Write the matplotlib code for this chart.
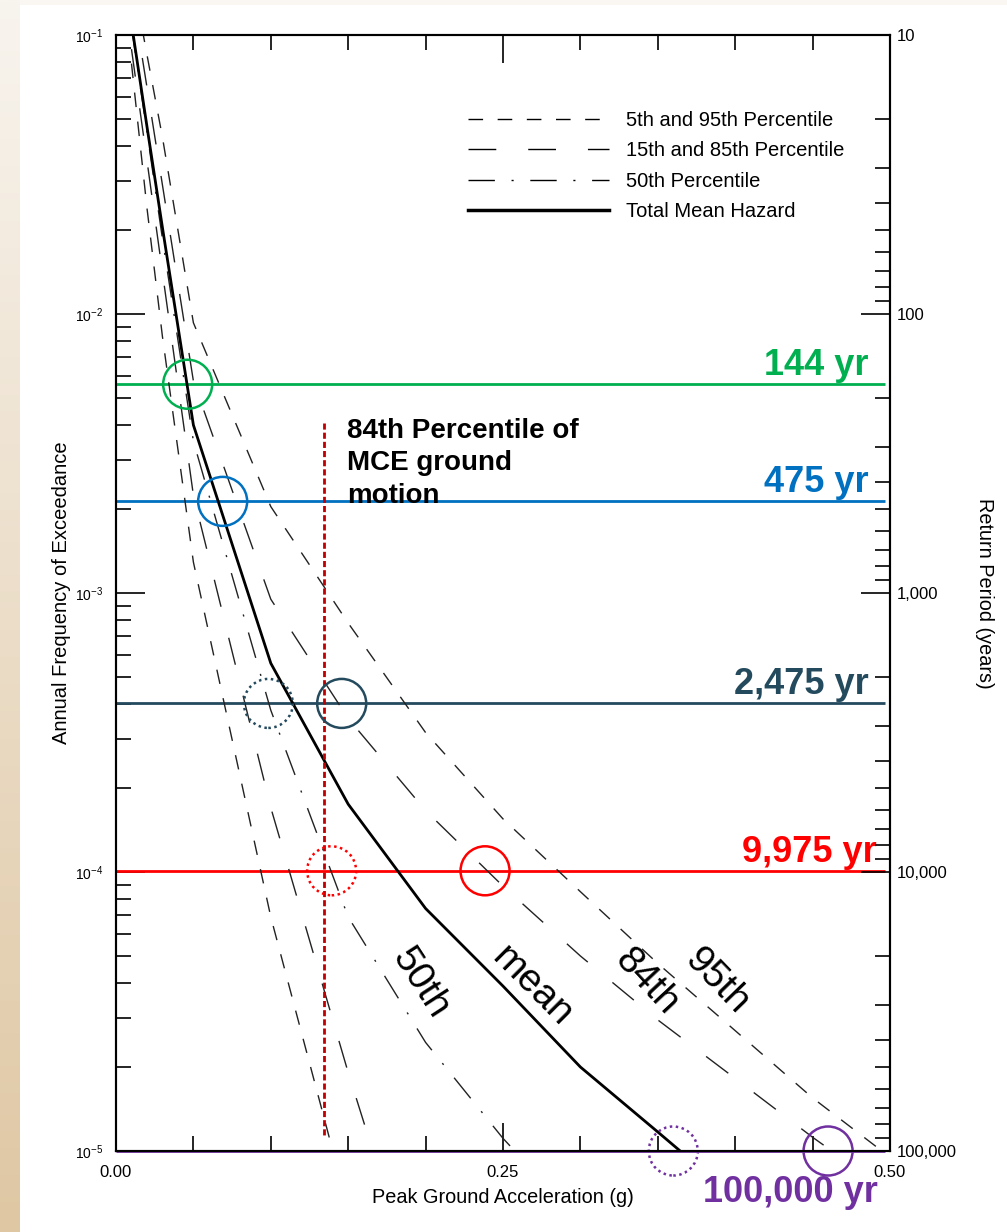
import numpy as np
import matplotlib
matplotlib.use("Agg")
import matplotlib.pyplot as plt
from matplotlib import transforms
from matplotlib.patches import Circle, Rectangle
from matplotlib.lines import Line2D
from matplotlib.ticker import FixedLocator, LogLocator, NullFormatter, FuncFormatter

plt.rcParams['font.family'] = ['Liberation Sans', 'DejaVu Sans']
plt.rcParams['mathtext.fontset'] = 'custom'
plt.rcParams['mathtext.rm'] = 'Liberation Sans'
plt.rcParams['mathtext.it'] = 'Liberation Sans'
plt.rcParams['mathtext.bf'] = 'Liberation Sans:bold'

# ---------------- data ----------------
pga = [0.01, 0.02, 0.03, 0.05, 0.10, 0.15, 0.20, 0.25, 0.30, 0.35, 0.40, 0.45, 0.50]
p05 = [7.9e-2, 2.4e-2, 8.3e-3, 1.29e-3, 6.9e-5, 6.2e-6]
p15 = [8.9e-2, 3.55e-2, 1.41e-2, 2.24e-3, 1.70e-4, 1.91e-5, 2.5e-6]
p50 = [1.07e-1, 4.5e-2, 1.86e-2, 3.5e-3, 3.8e-4, 6.9e-5, 2.45e-5, 1.11e-5, 5.6e-6]
mean = [1.10e-1, 4.7e-2, 2.04e-2, 4.0e-3, 5.6e-4, 1.75e-4, 7.4e-5, 3.9e-5, 2.0e-5, 1.17e-5, 6.8e-6]
p85 = [1.45e-1, 6.5e-2, 2.9e-2, 5.75e-3, 9.5e-4, 3.55e-4, 1.66e-4, 8.9e-5, 5.0e-5, 2.95e-5, 1.82e-5, 1.12e-5, 7.1e-6]
p95 = [1.70e-1, 8.5e-2, 4.3e-2, 9.3e-3, 2.04e-3, 7.8e-4, 3.16e-4, 1.55e-4, 8.5e-5, 4.7e-5, 2.7e-5, 1.55e-5, 9.5e-6]

legend_labels = ["5th and 95th Percentile", "15th and 85th Percentile",
                 "50th Percentile", "Total Mean Hazard"]

hazard_freq = [5.6e-3, 2.13e-3, 4.02e-4, 1.01e-4, 1.0e-5]
hazard_labels = ["144 yr", "475 yr", "2,475 yr", "9,975 yr", "100,000 yr"]
hazard_colors = ["#00b050", "#0070c0", "#244a5e", "#ff0000", "#7030a0"]

circle_pga = [0.0463, 0.0689, 0.0984, 0.1458, 0.1393, 0.2384, 0.360, 0.460]
circle_freq = [5.6e-3, 2.13e-3, 4.02e-4, 4.02e-4, 1.01e-4, 1.01e-4, 1.0e-5, 1.0e-5]
circle_level = [0, 1, 2, 2, 3, 3, 4, 4]
circle_dotted = [False, False, True, False, True, False, True, False]

mce_pga = 0.1344
mce_freq = [4.06e-3, 1.11e-5]

curve_labels = ["50th", "mean", "84th", "95th"]
curve_label_pga = [0.1964, 0.2685, 0.3428, 0.3880]
curve_label_freq = [3.99e-5, 3.88e-5, 4.05e-5, 4.05e-5]
curve_label_rot = [-57, -45, -47, -46]

x_ticks = [0.0, 0.25, 0.50]
x_ticklabels = ["0.00", "0.25", "0.50"]

# ---------------- figure ----------------
W, H = 1007, 1232
fig = plt.figure(figsize=(W / 100, H / 100), dpi=100)
fig.patch.set_facecolor("white")

# slide background: beige gradient strip on the left and thin strip on top
bg = fig.add_axes([0, 0, 1, 1], zorder=-10)
bg.set_xlim(0, W)
bg.set_ylim(H, 0)
bg.axis("off")
top_c = np.array([0xf8, 0xf4, 0xee]) / 255
bot_c = np.array([0xdf, 0xc7, 0xa3]) / 255
t = np.linspace(0, 1, 256)[:, None, None]
grad = top_c * (1 - t) + bot_c * t
bg.imshow(np.repeat(grad, 2, axis=1), extent=[0, W, H, 0], aspect="auto", interpolation="bilinear")
bg.add_patch(Rectangle((20, 5), W - 20, H - 5, facecolor="white", edgecolor="none"))
bg.add_patch(Rectangle((20, 0), W - 20, 5, facecolor="#faf7f2", edgecolor="none"))

L, R, T, B = 116, 890, 35, 1151
ax = fig.add_axes([L / W, 1 - B / H, (R - L) / W, (B - T) / H])
ax.set_yscale("log")
ax.set_xlim(0, 0.5)
ax.set_ylim(1e-5, 1e-1)
ax.set_autoscale_on(False)

thin = 1.0
short_dash = (0, (10.5, 10.5))
long_dash = (0, (20, 23))
dash_dot = (0, (19, 12, 1.5, 12))

ax.plot(pga[:len(p05)], p05, color="#222222", lw=thin, linestyle=short_dash, zorder=3)
ax.plot(pga[:len(p95)], p95, color="#222222", lw=thin, linestyle=short_dash, zorder=3)
ax.plot(pga[:len(p15)], p15, color="#222222", lw=thin, linestyle=long_dash, zorder=3)
ax.plot(pga[:len(p85)], p85, color="#222222", lw=thin, linestyle=long_dash, zorder=3)
ax.plot(pga[:len(p50)], p50, color="#222222", lw=thin, linestyle=dash_dot, zorder=3)
ax.plot(pga[:len(mean)], mean, color="black", lw=2.0, zorder=4)

# hazard levels
for f, c in zip(hazard_freq, hazard_colors):
    ax.plot([0.0, 0.497], [f, f], color=c, lw=2.0, zorder=2, solid_capstyle="butt", clip_on=False)

for f, lab, c in list(zip(hazard_freq, hazard_labels, hazard_colors))[:4]:
    xr = 0.4915 if lab.startswith("9,975") else 0.486
    ax.text(xr, f * 10 ** 0.033, lab, color=c, fontsize=26, fontweight="bold",
            ha="right", va="baseline", zorder=6)
fig.text(790 / W, 1 - 1202 / H, hazard_labels[4], color=hazard_colors[4], fontsize=26,
         fontweight="bold", ha="center", va="baseline")

# circles (fixed pixel radius)
for x, f, lv, dotted in zip(circle_pga, circle_freq, circle_level, circle_dotted):
    trans = fig.dpi_scale_trans + transforms.ScaledTranslation(x, f, ax.transData)
    circ = Circle((0, 0), radius=0.245, transform=trans, fill=False,
                  edgecolor=hazard_colors[lv], lw=1.8,
                  linestyle=(0, (1.0, 1.4)) if dotted else "-", clip_on=False, zorder=6)
    ax.add_patch(circ)

# 84th percentile of MCE vertical
ax.plot([mce_pga, mce_pga], mce_freq, color="#c00000", lw=2.0,
        linestyle=(0, (2.2, 1.1)), zorder=5)
ax.text(0.149, 4.25e-3, "84th Percentile of\nMCE ground\nmotion", fontsize=20,
        fontweight="bold", ha="left", va="top", linespacing=1.33, zorder=6)

# curve labels
for lab, x, f, r in zip(curve_labels, curve_label_pga, curve_label_freq, curve_label_rot):
    ax.text(x, f, lab, fontsize=28, rotation=r, rotation_mode="anchor",
            ha="center", va="center", zorder=6)

# legend
handles = [
    Line2D([], [], color="black", lw=thin, linestyle=short_dash),
    Line2D([], [], color="black", lw=thin, linestyle=long_dash),
    Line2D([], [], color="black", lw=thin, linestyle=dash_dot),
    Line2D([], [], color="black", lw=2.5),
]
leg = ax.legend(handles, legend_labels, loc="upper left",
                bbox_to_anchor=(468 / W, 1 - 111 / H), bbox_transform=fig.transFigure,
                frameon=False, fontsize=14.5, handlelength=7.0, handletextpad=0.85,
                labelspacing=0.56, borderpad=0, borderaxespad=0)

# axes styling
for s in ax.spines.values():
    s.set_linewidth(1.5)
ax.xaxis.set_major_locator(FixedLocator(x_ticks))
ax.set_xticklabels(x_ticklabels)
ax.xaxis.set_minor_locator(FixedLocator([0.05, 0.10, 0.15, 0.20, 0.30, 0.35, 0.40, 0.45]))
ax.tick_params(axis="x", which="both", direction="in", top=True, bottom=True,
               width=1.2, labelsize=12, pad=10)
ax.tick_params(axis="x", which="major", length=20)
ax.tick_params(axis="x", which="minor", length=11)
ax.yaxis.set_major_locator(LogLocator(base=10, numticks=10))
ax.yaxis.set_minor_locator(LogLocator(base=10, subs=np.arange(2, 10), numticks=20))
ax.yaxis.set_minor_formatter(NullFormatter())
ax.tick_params(axis="y", which="both", direction="in", left=True, right=False,
               width=1.2, labelsize=10, pad=9)
ax.tick_params(axis="y", which="major", length=21)
ax.tick_params(axis="y", which="minor", length=11)

ax.set_xlabel("Peak Ground Acceleration (g)", fontsize=14.3, labelpad=6)
ax.set_ylabel("Annual Frequency of Exceedance", fontsize=14.5, labelpad=3)

ax2 = ax.twinx()
ax2.set_yscale("log")
ax2.set_ylim(1e5, 10)
ax2.yaxis.set_major_locator(LogLocator(base=10, numticks=10))
ax2.yaxis.set_minor_locator(LogLocator(base=10, subs=np.arange(2, 10), numticks=20))
ax2.yaxis.set_major_formatter(FuncFormatter(lambda v, p: f"{int(round(v)):,}"))
ax2.yaxis.set_minor_formatter(NullFormatter())
ax2.tick_params(axis="y", which="both", direction="in", right=True, left=False,
                width=1.2, labelsize=12, pad=5)
ax2.tick_params(axis="y", which="major", length=21)
ax2.tick_params(axis="y", which="minor", length=11)
for s in ax2.spines.values():
    s.set_linewidth(1.5)
ax2.set_ylabel("Return Period (years)", fontsize=14.3, rotation=-90, labelpad=27)

fig.savefig("out.png", dpi=100)
